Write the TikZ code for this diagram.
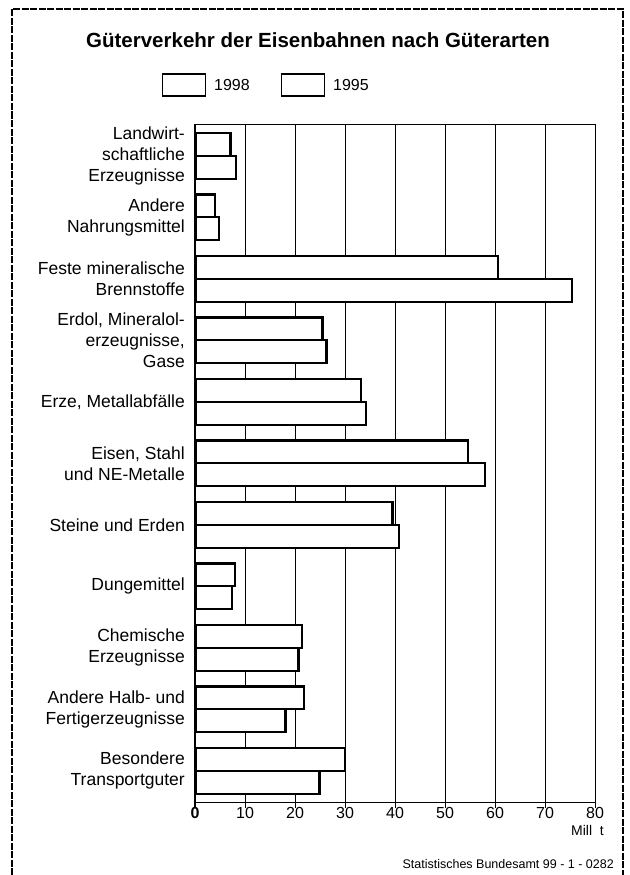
\documentclass[tikz,border=0pt]{standalone}
\usepackage{fontspec}
\setmainfont{Liberation Sans}
\begin{document}
\begin{tikzpicture}[x=1pt,y=-1pt,
  frame/.style={line width=1.1pt, dash pattern=on 7pt off 1.5pt},
  grid/.style={line width=0.95pt},
  bar/.style={draw, fill=white, line width=2.2pt},
  cat/.style={anchor=east, align=right, inner sep=0pt, font=\fontsize{17.5}{21}\selectfont},
  tick/.style={anchor=center, inner sep=0pt, font=\fontsize{16}{18}\selectfont},
  legbox/.style={draw, line width=1.1pt, minimum width=43pt, minimum height=22pt, inner sep=0pt}]
\useasboundingbox (0,0) rectangle (629,875);
% outer frame (open at bottom)
\draw[frame] (12,875) -- (12,9) -- (623,9) -- (623,875);
% title
\node[font=\fontsize{20.5}{24}\selectfont\bfseries] (title) at (318,40) {Güterverkehr der Eisenbahnen nach Güterarten};
% legend
\node[legbox] (lb1) at (184,85) {};
\node[anchor=west, inner sep=0pt, font=\fontsize{16}{18}\selectfont] (lt1) at (214,85) {1998};
\node[legbox] (lb2) at (303,85) {};
\node[anchor=west, inner sep=0pt, font=\fontsize{16}{18}\selectfont] (lt2) at (333,85) {1995};
% grid
\foreach \k in {1,...,8} {
  \draw[grid] (195+50*\k,124) -- (195+50*\k,802);
}
\draw[grid] (195,124) -- (595,124);
\draw[grid] (195,802) -- (595,802);
\draw[line width=1.6pt] (195,124) -- (195,808);
\foreach \k in {1,...,8} {
  \draw[grid] (195+50*\k,802) -- (195+50*\k,808);
}
% bars
\foreach \i/\a/\b in {0/7.1/8.2, 1/4.0/4.8, 2/60.6/75.4, 3/25.5/26.3, 4/33.2/34.2, 5/54.6/58, 6/39.5/40.8, 7/8.0/7.4, 8/21.4/20.7, 9/21.8/18.1, 10/30/24.9} {
  \draw[bar] (196,133+61.5*\i) rectangle (195+5*\a,155.8+61.5*\i);
  \draw[bar] (196,155.8+61.5*\i) rectangle (195+5*\b,178.6+61.5*\i);
}
% category labels
\node[cat] (c0) at (185,155.8+61.5*0) {Landwirt-\\schaftliche\\Erzeugnisse};
\node[cat] (c1) at (185,155.8+61.5*1) {Andere\\Nahrungsmittel};
\node[cat] (c2) at (185,155.8+61.5*2) {Feste mineralische\\Brennstoffe};
\node[cat] (c3) at (185,155.8+61.5*3) {Erdol, Mineralol-\\erzeugnisse,\\Gase};
\node[cat] (c4) at (185,155.8+61.5*4) {Erze, Metallabfälle};
\node[cat] (c5) at (185,155.8+61.5*5) {Eisen, Stahl\\und NE-Metalle};
\node[cat] (c6) at (185,155.8+61.5*6) {Steine und Erden};
\node[cat] (c7) at (185,155.8+61.5*7) {Dungemittel};
\node[cat] (c8) at (185,155.8+61.5*8) {Chemische\\Erzeugnisse};
\node[cat] (c9) at (185,155.8+61.5*9) {Andere Halb- und\\Fertigerzeugnisse};
\node[cat] (c10) at (185,155.8+61.5*10) {Besondere\\Transportguter};
% tick labels
\node[tick, font=\fontsize{16}{18}\selectfont\bfseries] (t0) at (195,813) {0};
\foreach \k in {1,...,8} {
  \node[tick] (t\k) at (195+50*\k,813) {\pgfmathparse{int(10*\k)}\pgfmathresult};
}
\node[anchor=east, inner sep=0pt, font=\fontsize{14}{16}\selectfont] (unit) at (604,830) {Mill\ \ t};
\node[anchor=east, inner sep=0pt, font=\fontsize{12.5}{14}\selectfont] (src) at (614,864) {Statistisches Bundesamt 99 - 1 - 0282};
\end{tikzpicture}
\end{document}
